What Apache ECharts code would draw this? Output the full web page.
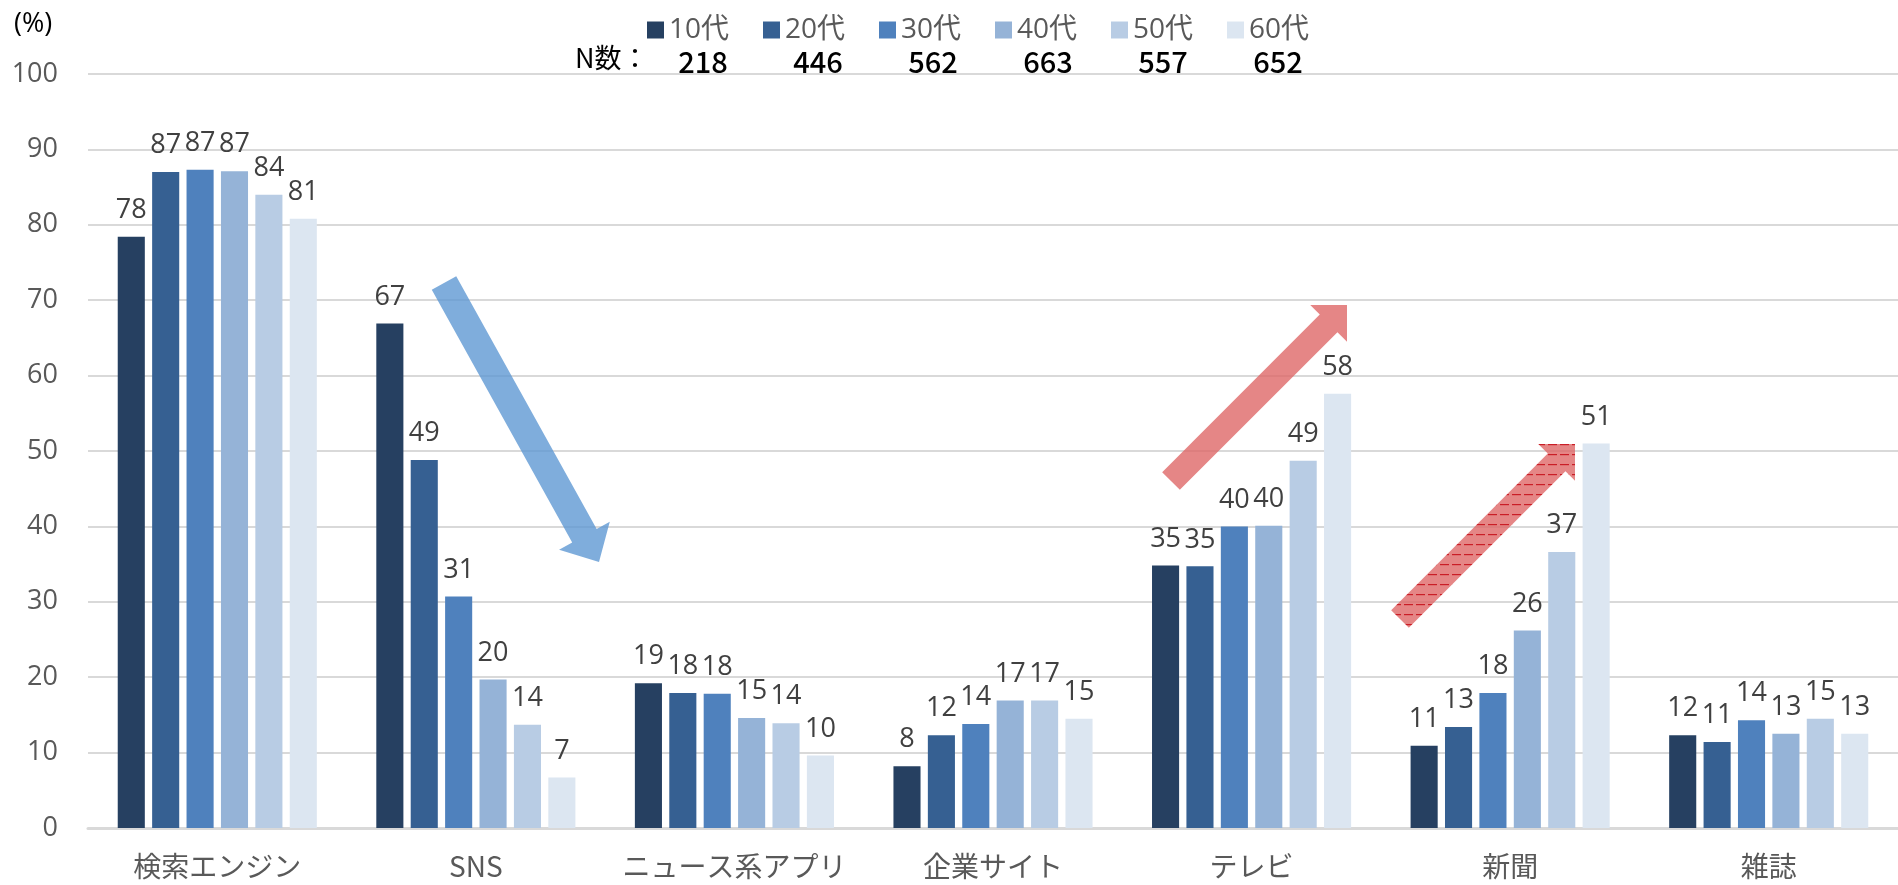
<!DOCTYPE html>
<html>
<head>
<meta charset="utf-8">
<script src="https://cdn.jsdelivr.net/npm/echarts@6/dist/echarts.min.js"></script>
<style>
html,body{margin:0;padding:0;background:#fff;}
#chart{width:1898px;height:885px;}
</style>
</head>
<body>
<div id="chart"></div>
<script>
const categories = ['検索エンジン', 'SNS', 'ニュース系アプリ', '企業サイト', 'テレビ', '新聞', '雑誌'];
const seriesNames = ['10代', '20代', '30代', '40代', '50代', '60代'];
const nCounts = ['218', '446', '562', '663', '557', '652'];
const v10 = [78.4, 66.9, 19.2, 8.2, 34.8, 10.9, 12.3];
const v20 = [87.0, 48.8, 17.9, 12.3, 34.7, 13.4, 11.4];
const v30 = [87.3, 30.7, 17.8, 13.8, 40.0, 17.9, 14.3];
const v40 = [87.1, 19.7, 14.6, 16.9, 40.1, 26.2, 12.5];
const v50 = [84.0, 13.7, 13.9, 16.9, 48.7, 36.6, 14.5];
const v60 = [80.8, 6.7, 9.6, 14.5, 57.6, 51.0, 12.5];
const yTicks = [0, 10, 20, 30, 40, 50, 60, 70, 80, 90, 100];

const allValues = [v10, v20, v30, v40, v50, v60];
const colors = ['#264061', '#366092', '#4f81bd', '#95b3d7', '#b8cce4', '#dce6f1'];
const FONT = '"Open Sans", "Noto Sans CJK JP", sans-serif';
const CJK = '"Noto Sans CJK JP", sans-serif';

const chart = echarts.init(document.getElementById('chart'), null, {renderer: 'canvas'});

function arrowPoints(tail, tip, w, hw, hl) {
  const dx = tip[0] - tail[0], dy = tip[1] - tail[1];
  const len = Math.sqrt(dx * dx + dy * dy);
  const ux = dx / len, uy = dy / len;
  const nx = -uy, ny = ux;
  const bx = tip[0] - ux * hl, by = tip[1] - uy * hl;
  return [
    [tail[0] + nx * w / 2, tail[1] + ny * w / 2],
    [bx + nx * w / 2, by + ny * w / 2],
    [bx + nx * hw / 2, by + ny * hw / 2],
    [tip[0], tip[1]],
    [bx - nx * hw / 2, by - ny * hw / 2],
    [bx - nx * w / 2, by - ny * w / 2],
    [tail[0] - nx * w / 2, tail[1] - ny * w / 2]
  ];
}

// hatch pattern for the second red arrow
const pc = document.createElement('canvas');
pc.width = 12; pc.height = 10;
const pctx = pc.getContext('2d');
pctx.fillStyle = 'rgba(222,100,100,0.78)';
pctx.fillRect(0, 0, 12, 10);
pctx.fillStyle = 'rgba(200,20,30,0.9)';
pctx.fillRect(0, 4, 9, 1.2);

const legends = seriesNames.map((n, i) => ({
  data: [n],
  left: 647 + i * 116,
  top: 16,
  itemWidth: 17,
  itemHeight: 17,
  itemGap: 0,
  icon: 'rect',
  padding: 0,
  textStyle: {fontFamily: FONT, fontSize: 28, color: '#595959', padding: [0, 0, 0, 0]}
}));

const graphics = [
  {type: 'text', left: 14, top: 11, style: {text: '(%)', font: '27px ' + FONT, fill: '#000'}},
  {type: 'text', left: 575, top: 44, style: {text: 'N数：', font: '27px ' + CJK, fill: '#000'}}
];
nCounts.forEach((n, i) => {
  graphics.push({
    type: 'text', x: 703 + i * 115, y: 62,
    style: {text: n, font: '500 29px ' + CJK, fill: '#000', align: 'center', verticalAlign: 'middle'}
  });
});
graphics.push({
  type: 'polygon', z: 100,
  shape: {points: arrowPoints([444, 283], [599, 562], 28, 58, 30)},
  style: {fill: 'rgba(91,150,210,0.78)'}
});
graphics.push({
  type: 'polygon', z: 100,
  shape: {points: arrowPoints([1171, 481], [1347, 305], 25, 52, 26)},
  style: {fill: 'rgba(222,100,100,0.78)'}
});
graphics.push({
  type: 'polygon', z: 100,
  shape: {points: arrowPoints([1400, 619], [1575, 444], 25, 52, 26)},
  style: {fill: {image: pc, repeat: 'repeat'}}
});

const option = {
  animation: false,
  backgroundColor: '#ffffff',
  textStyle: {fontFamily: FONT},
  legend: legends,
  grid: {left: 88, top: 74, width: 1826, height: 754, containLabel: false},
  xAxis: {
    type: 'category',
    data: categories,
    axisLine: {show: true, lineStyle: {color: '#d9d9d9', width: 3}},
    axisTick: {show: false},
    axisLabel: {interval: 0, fontFamily: CJK, fontSize: 28, color: '#595959', margin: 24},
    splitLine: {show: false}
  },
  yAxis: {
    type: 'value',
    min: yTicks[0],
    max: yTicks[yTicks.length - 1],
    interval: 10,
    axisLine: {show: false},
    axisTick: {show: false},
    axisLabel: {fontFamily: FONT, fontSize: 27, color: '#595959', margin: 30},
    splitLine: {lineStyle: {color: '#d9d9d9', width: 2}}
  },
  series: allValues.map((vals, i) => ({
    name: seriesNames[i],
    type: 'bar',
    data: vals,
    barGap: '27%',
    barCategoryGap: '23%',
    itemStyle: {color: colors[i]},
    label: {
      show: true,
      position: 'top',
      distance: 13,
      fontFamily: FONT,
      fontSize: 27,
      color: '#404040',
      formatter: p => Math.round(p.value)
    }
  })),
  graphic: graphics
};
chart.setOption(option);
</script>
</body>
</html>
